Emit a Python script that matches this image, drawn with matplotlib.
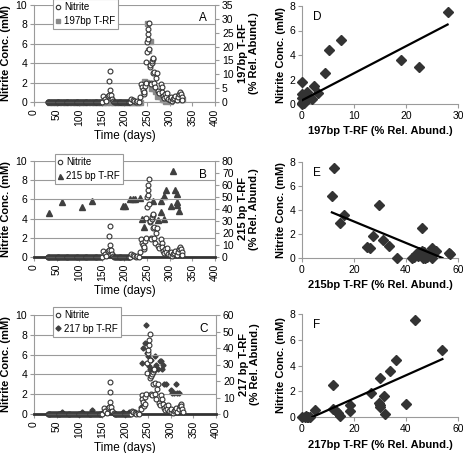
import matplotlib
matplotlib.use("Agg")
import matplotlib.pyplot as plt
from matplotlib.lines import Line2D
import numpy as np

plt.rcParams['font.family'] = ['Liberation Sans', 'DejaVu Sans']

# ---------------- data ----------------
nitrite_days = [30, 32, 34, 36, 38, 40, 42, 44, 46, 48, 50, 52, 54, 56, 58, 60, 62, 64, 66, 68,
                70, 72, 74, 76, 78, 80, 82, 84, 86, 88, 90, 92, 94, 96, 98, 100, 102, 104, 106,
                108, 110, 112, 114, 116, 118, 120, 122, 124, 126, 128, 130, 132, 134, 136, 138,
                140, 142, 144, 146, 148, 150,
                153, 157, 160, 163, 165, 166, 167, 168, 170, 172, 175,
                177, 179, 181, 183, 185, 187, 189, 191, 193, 195, 197, 199, 201, 203, 205, 207,
                209, 211, 213,
                215, 218, 221, 225, 228, 231,
                235, 237, 238, 240, 242, 243, 245, 247, 248, 249, 250, 251, 252, 253, 254, 255,
                256, 257, 258, 259, 260, 261, 262, 263, 264, 265, 266, 268, 270, 272, 275, 277,
                280, 282, 283, 285, 287, 290, 292, 295, 297, 300, 302, 305, 308, 310, 312, 315,
                318, 320, 322, 324, 326, 328]
nitrite_conc = [0, 0, 0, 0, 0, 0, 0, 0, 0, 0, 0, 0, 0, 0, 0, 0, 0, 0, 0, 0,
                0, 0, 0, 0, 0, 0, 0, 0, 0, 0, 0, 0, 0, 0, 0, 0, 0, 0, 0,
                0, 0, 0, 0, 0, 0, 0, 0, 0, 0, 0, 0, 0, 0, 0, 0,
                0, 0, 0, 0, 0, 0,
                0.6, 0.3, 0.1, 0.6, 0.7, 2.2, 3.2, 1.2, 0.7, 0.3, 0.1,
                0, 0, 0, 0, 0, 0, 0, 0, 0, 0, 0, 0, 0, 0, 0, 0,
                0, 0, 0,
                0.3, 0.2, 0.1, 0.05, 0.1, 0.05,
                0.5, 1.9, 1.5, 1.2, 0.8, 1.0, 1.7, 2.0, 4.1, 5.2, 6.2, 6.5, 7.0, 7.5, 8.1, 5.5,
                3.6, 3.8, 2.0, 1.9, 4.0, 4.2, 3.0, 4.4, 4.5, 3.1, 2.0, 1.5, 2.5, 3.0, 1.1, 0.9,
                1.9, 1.5, 1.0, 0.6, 0.4, 0.8, 0.5, 0.9, 0.3, 0.2, 0.5, 0.1, 0.3, 0.4, 0.6, 0.2,
                0.5, 0.8, 1.0, 0.8, 0.5, 0.2]

trf197_days = [33, 40, 47, 54, 62, 69, 76, 83, 90, 97, 104, 111, 118, 125, 132, 139, 146, 153,
               160, 167, 174, 181, 188, 195, 200, 205, 210, 215, 220, 225, 230, 235,
               240, 244, 247, 250, 253, 256, 259, 264, 268, 272, 278, 282, 286, 290, 295, 300,
               305, 310, 315, 318, 322, 326]
trf197_abund = [0, 0, 0, 0, 0, 0, 0, 0, 0, 0, 0, 0, 0, 0, 0, 0, 0, 0,
                0, 0, 0, 0, 0, 0, 0, 0, 0, 0, 0, 0, 0, 0,
                4.5, 7.5, 7.3, 28.4, 18.8, 22.0, 5.0, 4.9, 4.0, 2.0, 2.0, 1.0, 1.0, 0.5, 1.5, 0.5,
                1.0, 1.5, 2.0, 1.0, 2.5, 1.0]

trf215_days = [33, 62, 105, 128, 196, 201, 212, 218, 223, 235, 238, 242, 264, 275, 280, 281,
               287, 288, 292, 302, 307, 312, 315, 317, 317, 320]
trf215_abund = [37, 46, 42, 47, 42.5, 42.5, 48, 48, 48, 49, 31.7, 25, 46.7, 31, 47, 37.5,
                32, 51, 56, 42.5, 72, 56, 45.5, 43, 52.5, 38]

trf217_days = [62, 105, 128, 150, 195, 208, 215, 222, 235, 237, 240, 243, 246, 248, 250, 252,
               255, 258, 262, 265, 268, 272, 276, 279, 281, 284, 286, 290, 300, 303, 308, 312,
               315, 318]
trf217_abund = [1.5, 1, 2.5, 0.5, 1, 1.2, 1.5, 1, 4, 31, 40, 43, 54, 37, 35, 29,
                27, 33, 27, 35, 30, 27, 32, 32, 27, 30, 18, 18, 14.5, 13, 13, 18,
                13, 13]

# scatter D: 197bp vs nitrite
d_x = [28, 19, 22.5, 7.5, 5.2, 4.5, 2.3, 3.1, 0, 1, 0, 0, 0.5, 1.5, 2, 0, 0.3, 1, 1.3, 0.2, 0.8, 0]
d_y = [7.5, 3.6, 3.0, 5.2, 4.4, 2.5, 1.5, 0.9, 1.8, 1.0, 0.8, 0.5, 0.3, 0.6, 0.4, 0, 0.1, 0.7, 0.5, 0.2, 0.3, 0.1]
d_fit = [0.221, 0.3]   # slope, intercept

# scatter E: 215bp vs nitrite
e_x = [12.3, 11.5, 29.8, 16.3, 14.7, 46, 27.2, 31.2, 33.3, 25, 26.2, 36.5, 42.5, 43, 44, 45, 46,
       46.5, 47.5, 48, 49.5, 50, 50, 51.5, 56.5, 56.8, 47, 45.5, 44.5]
e_y = [7.5, 5.2, 4.4, 3.6, 2.9, 2.5, 1.8, 1.5, 1.0, 0.95, 0.8, 0, 0, 0.1, 0.3, 0.5, 0.6,
       0, 0, 0.1, 0.6, 0.8, 0, 0.6, 0.4, 0.3, 0.5, 0.4, 0.2]
e_fit = [-0.0894, 4.83]

# scatter F: 217bp vs nitrite
f_x = [43.5, 54, 36, 34, 30, 12, 26.5, 31.5, 40, 29.8, 30, 30, 32, 18.5, 18.5, 12, 13, 14, 14.5,
       5, 0, 1, 2, 3, 1.5, 2.5]
f_y = [7.5, 5.2, 4.45, 3.6, 3.0, 2.5, 1.85, 1.6, 1.0, 1.05, 0.9, 0.8, 0.2, 0.9, 0.45, 0.65, 0.5,
       0.3, 0.05, 0.55, 0, 0, 0, 0, 0.05, 0]
f_fit = [0.09, -0.36]

time_ticks = [0, 50, 100, 150, 200, 250, 300, 350, 400]

# ---------------- figure ----------------
W, H = 464, 453
fig = plt.figure(figsize=(W / 100, H / 100), dpi=100)

def px_axes(l, r, t, b):
    return fig.add_axes([l / W, (H - b) / H, (r - l) / W, (b - t) / H])

GRAY = '#9a9a9a'
DARK = '#333333'
FS = 7.5

def style_time(ax, bottom_dark=False):
    ax.set_xlim(0, 400)
    ax.set_ylim(0, 10)
    ax.set_yticks([0, 2, 4, 6, 8, 10])
    ax.set_xticks(time_ticks)
    ax.set_xticklabels([str(t) for t in time_ticks], rotation=90, fontsize=FS)
    ax.tick_params(axis='y', labelsize=FS, length=3, color=GRAY, pad=2)
    ax.tick_params(axis='x', length=3, color=GRAY, pad=2)
    ax.grid(axis='y', color=GRAY, lw=0.8)
    ax.set_axisbelow(True)
    for s in ['top', 'right']:
        ax.spines[s].set_visible(False)
    ax.spines['left'].set_color(GRAY)
    ax.spines['bottom'].set_color(DARK if bottom_dark else GRAY)
    ax.spines['bottom'].set_linewidth(2.0 if bottom_dark else 0.8)
    ax.set_ylabel('Nitrite Conc. (mM)', fontsize=8, fontweight='bold', labelpad=3)
    ax.set_xlabel('Time (days)', fontsize=8.5, labelpad=3)

def style_twin(ax2, top, step, label):
    ax2.set_xlim(0, 400)
    ax2.set_ylim(0, top)
    ax2.set_yticks(list(range(0, top + 1, step)))
    ax2.tick_params(axis='y', labelsize=FS, length=3, color=GRAY, pad=2)
    for s in ['top', 'left', 'bottom']:
        ax2.spines[s].set_visible(False)
    ax2.spines['right'].set_color(GRAY)
    ax2.set_ylabel(label, fontsize=8, fontweight='bold', rotation=90, labelpad=3,
                   linespacing=1.1)

def plot_nitrite(ax):
    ax.plot(nitrite_days, nitrite_conc, 'o', ms=3.5, mfc='white', mec=DARK, mew=0.8,
            clip_on=False, zorder=4)

def add_legend(ax, handle2, label2, x0, y1):
    h1 = Line2D([], [], marker='o', ls='none', ms=3.2, mfc='white', mec=DARK, mew=0.8)
    leg = ax.legend([h1, handle2], ['Nitrite', label2], loc='upper left',
                    bbox_to_anchor=(x0, y1), fontsize=7, frameon=True, fancybox=False,
                    framealpha=1, edgecolor=GRAY, handlelength=0.5, handletextpad=0.35,
                    borderpad=0.3, labelspacing=0.4, borderaxespad=0)
    leg.get_frame().set_linewidth(0.8)
    leg.set_zorder(10)

# ---- Panel A ----
axA = px_axes(34, 215, 5, 102)
style_time(axA)
axA2 = axA.twinx()
style_twin(axA2, 35, 5, '197bp T-RF\n(% Rel. Abund.)')
axA2.plot(trf197_days, trf197_abund, 's', ms=3.6, color='#8a8a8a', clip_on=False, zorder=3)
axA.set_zorder(axA2.get_zorder() + 1)
axA.patch.set_visible(False)
plot_nitrite(axA)
add_legend(axA, Line2D([], [], marker='s', ls='none', ms=3.4, color='#8a8a8a'),
           '197bp T-RF', 0.105, 1.06)
axA.text(0.955, 0.93, 'A', transform=axA.transAxes, ha='right', va='top', fontsize=8.5)

# ---- Panel B ----
axB = px_axes(34, 215, 161, 257)
style_time(axB, bottom_dark=True)
axB2 = axB.twinx()
style_twin(axB2, 80, 10, '215 bp T-RF\n(% Rel. Abund.)')
axB2.plot(trf215_days, trf215_abund, '^', ms=3.8, color='#404040', clip_on=False, zorder=3)
plot_nitrite(axB)
add_legend(axB, Line2D([], [], marker='^', ls='none', ms=3.6, color='#404040'),
           '215 bp T-RF', 0.115, 1.07)
axB.set_zorder(axB2.get_zorder() + 1)
axB.patch.set_visible(False)
axB.text(0.955, 0.92, 'B', transform=axB.transAxes, ha='right', va='top', fontsize=8.5)

# ---- Panel C ----
axC = px_axes(34, 216, 315, 414)
style_time(axC, bottom_dark=True)
axC2 = axC.twinx()
style_twin(axC2, 60, 10, '217 bp T-RF\n(% Rel. Abund.)')
axC2.plot(trf217_days, trf217_abund, 'D', ms=2.6, color='#404040', clip_on=False, zorder=3)
plot_nitrite(axC)
add_legend(axC, Line2D([], [], marker='D', ls='none', ms=2.6, color='#404040'),
           '217 bp T-RF', 0.105, 1.08)
axC.set_zorder(axC2.get_zorder() + 1)
axC.patch.set_visible(False)
axC.text(0.955, 0.92, 'C', transform=axC.transAxes, ha='right', va='top', fontsize=8.5)

# ---- scatter panels ----
def scatter_panel(ax, xs, ys, fit, xmax, xstep, letter, xlabel):
    ax.plot(xs, ys, 'D', ms=4.6, color='#333333', clip_on=False, zorder=3)
    xs_arr = np.asarray(xs, dtype=float)
    lo, hi = xs_arr.min(), xs_arr.max()
    x0 = max(lo, -fit[1] / fit[0]) if fit[0] > 0 else lo
    x1 = hi if fit[0] > 0 else min(hi, -fit[1] / fit[0])
    xl = np.array([x0, x1])
    ax.plot(xl, fit[0] * xl + fit[1], color='black', lw=1.6, zorder=4)
    ax.set_xlim(0, xmax)
    ax.set_ylim(0, 8)
    ax.set_xticks(list(range(0, xmax + 1, xstep)))
    ax.set_yticks([0, 2, 4, 6, 8])
    ax.tick_params(labelsize=FS, length=3, color=GRAY, pad=2)
    for s in ['top', 'right']:
        ax.spines[s].set_visible(False)
    ax.spines['left'].set_color(GRAY)
    ax.spines['bottom'].set_color(GRAY)
    ax.set_ylabel('Nitrite Conc. (mM)', fontsize=8, fontweight='bold', labelpad=2)
    ax.set_xlabel(xlabel, fontsize=8, fontweight='bold', labelpad=4)
    ax.text(0.07, 0.95, letter, transform=ax.transAxes, ha='left', va='top', fontsize=8.5)

axD = px_axes(302, 458, 6, 104)
scatter_panel(axD, d_x, d_y, d_fit, 30, 10, 'D', '197bp T-RF (% Rel. Abund.)')
axE = px_axes(302, 458, 162, 258)
scatter_panel(axE, e_x, e_y, e_fit, 60, 20, 'E', '215bp T-RF (% Rel. Abund.)')
axF = px_axes(302, 458, 314, 417)
scatter_panel(axF, f_x, f_y, f_fit, 60, 20, 'F', '217bp T-RF (% Rel. Abund.)')

fig.savefig('out.png', dpi=100)
